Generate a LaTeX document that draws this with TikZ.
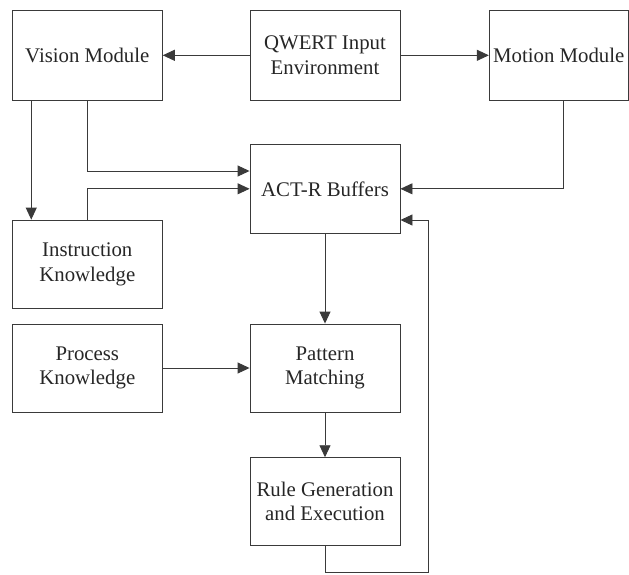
\documentclass[tikz,border=0pt]{standalone}
\usepackage{fontspec}
\setmainfont{Liberation Serif}
\usetikzlibrary{arrows.meta}
\definecolor{ln}{HTML}{3A3A3A}
\tikzset{
  blk/.style={draw=ln, line width=0.9pt, rectangle, inner sep=0pt, align=center,
    font=\fontsize{20.8}{24.5}\selectfont, text=black!85},
  arr/.style={draw=ln, line width=0.9pt, -{Triangle[length=12pt,width=11pt]}}
}
\begin{document}
\begin{tikzpicture}[x=1pt,y=-1pt]
\useasboundingbox (0,0) rectangle (629,574);
\node[blk, minimum width=150pt, minimum height=89.3pt] (vis) at (87.3,55.3) {Vision Module};
\node[blk, minimum width=150pt, minimum height=89.3pt] (qwe) at (325,55.3) {QWERT Input\\Environment};
\node[blk, minimum width=139pt, minimum height=89.3pt] (mot) at (558.8,55.3) {Motion Module};
\node[blk, minimum width=150pt, minimum height=89pt] (act) at (325,188.8) {ACT-R Buffers};
\node[blk, minimum width=150pt, minimum height=88.3pt] (ins) at (87.3,264.2) {Instruction\\Knowledge};
\node[blk, minimum width=150pt, minimum height=88pt] (pro) at (87.3,368) {Process\\Knowledge};
\node[blk, minimum width=150pt, minimum height=88pt] (pat) at (325,368) {Pattern\\Matching};
\node[blk, minimum width=150pt, minimum height=87.6pt] (rul) at (325,501.5) {Rule Generation\\and Execution};
\coordinate (fb) at (428.3,572.7);
\draw[arr] (qwe.west) -- (vis.east);
\draw[arr] (qwe.east) -- (mot.west);
\draw[arr] ([xshift=19.4pt]vis.south west) -- ([xshift=19.4pt]ins.north west);
\draw[arr] (vis.south) |- ([yshift=17.8pt]act.west);
\draw[arr] (ins.north) |- (act.west);
\draw[arr] ([xshift=4.5pt]mot.south) |- (act.east);
\draw[arr] (act.south) -- (pat.north);
\draw[arr] (pro.east) -- (pat.west);
\draw[arr] (pat.south) -- (rul.north);
\draw[arr] (rul.south) |- (fb) |- ([yshift=-31.2pt]act.east);
\end{tikzpicture}
\end{document}
